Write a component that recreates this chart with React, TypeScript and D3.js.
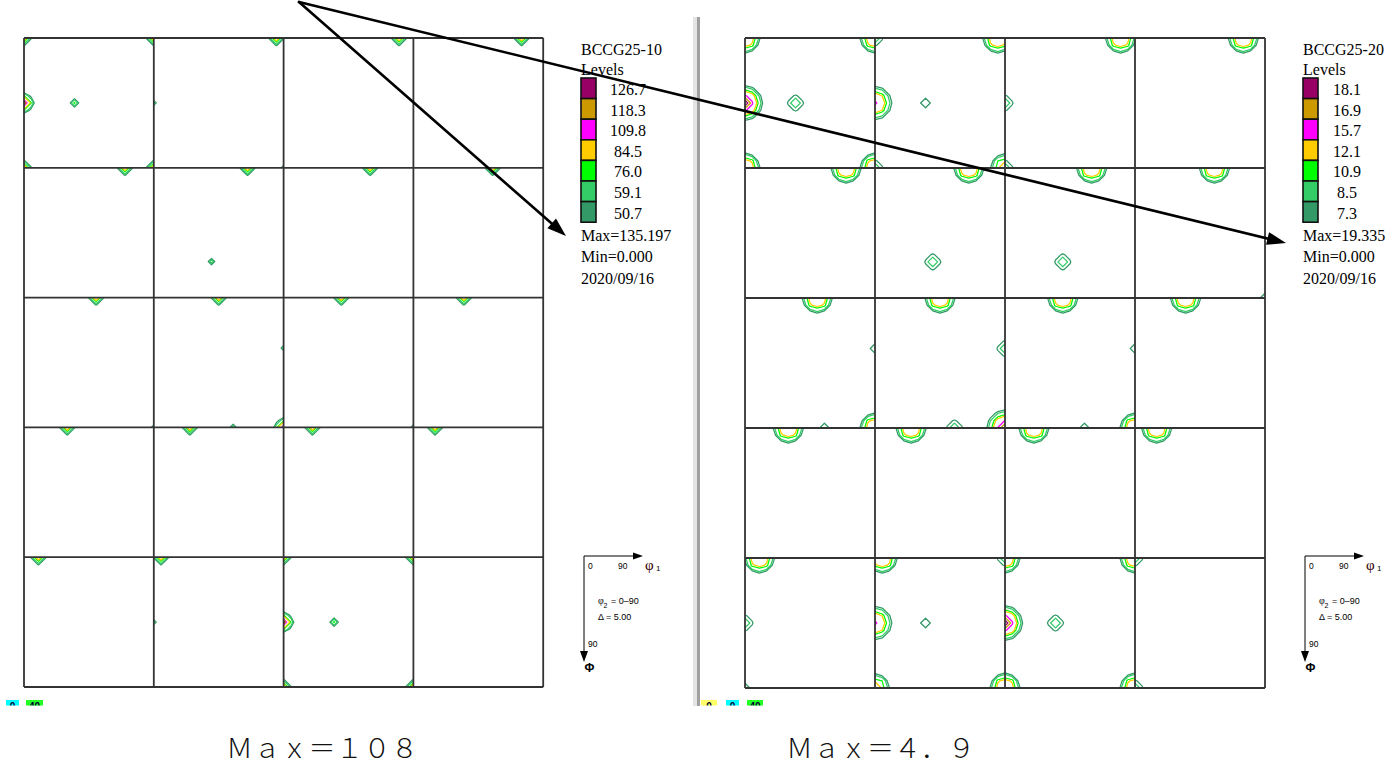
import React, { useMemo } from 'react';
import * as d3 from 'd3';

// ---------- data ----------
// peak: [column, row, phi1 (deg), PHI (deg), peak value, spread (deg), shape exponent]
type Peak = [number, number, number, number, number, number, number];

const titles = ['BCCG25-10', 'BCCG25-20'];
const leftLevels = [50.7, 59.1, 76.0, 84.5, 109.8, 118.3, 126.7];
const rightLevels = [7.3, 8.5, 10.9, 12.1, 15.7, 16.9, 18.1];
const leftLevelLabels = ['50.7', '59.1', '76.0', '84.5', '109.8', '118.3', '126.7'];
const rightLevelLabels = ['7.3', '8.5', '10.9', '12.1', '15.7', '16.9', '18.1'];
const levelColors = ['#339966', '#33cc66', '#00ff00', '#ffcc00', '#ff00ff', '#cc9900', '#990066'];
const maxLabels = ['Max=135.197', 'Max=19.335'];
const minLabels = ['Min=0.000', 'Min=0.000'];
const dateLabels = ['2020/09/16', '2020/09/16'];
const captions = ['Ｍａｘ＝１０８', 'Ｍａｘ＝４．９'];
const keyPhi1Ticks = ['0', '90'];
const keyPhiTick = '90';
const keyRange = '= 0–90';
const keyDelta = 'Δ = 5.00';
const stripLabels = [['0', '40'], ['0', '0', '40']];
const stripColors = [['#00ffff', '#22ff22'], ['#ffff66', '#00ffff', '#22ff22']];

const leftPeaks: Peak[] = [
  [0, 0, 0, 0, 105, 4.3, 2],
  [0, 0, 90, 0, 105, 4.3, 2],
  [0, 0, 0, 45, 135, 4.7, 2],
  [0, 0, 35, 45, 80, 3.6, 2],
  [0, 0, 0, 90, 105, 4.3, 2],
  [0, 0, 90, 90, 105, 4.3, 2],
  [1, 0, 85, 0, 105, 4.3, 2],
  [1, 0, 0, 45, 65, 3.5, 2],
  [1, 0, 90, 90, 65, 3.5, 2],
  [2, 0, 80, 0, 105, 4.3, 2],
  [3, 0, 75, 0, 105, 4.3, 2],
  [0, 1, 70, 0, 105, 4.3, 2],
  [1, 1, 65, 0, 105, 4.3, 2],
  [1, 1, 40, 65, 70, 3.6, 2],
  [2, 1, 60, 0, 105, 4.3, 2],
  [3, 1, 55, 0, 105, 4.3, 2],
  [0, 2, 50, 0, 105, 4.3, 2],
  [0, 2, 90, 90, 65, 3.5, 2],
  [1, 2, 45, 0, 105, 4.3, 2],
  [1, 2, 90, 35, 65, 3.6, 2],
  [1, 2, 55, 90, 70, 3.6, 2],
  [1, 2, 90, 90, 125, 4.7, 2],
  [2, 2, 40, 0, 105, 4.3, 2],
  [2, 2, 90, 90, 65, 3.5, 2],
  [3, 2, 35, 0, 105, 4.3, 2],
  [0, 3, 30, 0, 105, 4.3, 2],
  [1, 3, 25, 0, 105, 4.3, 2],
  [2, 3, 20, 0, 105, 4.3, 2],
  [3, 3, 15, 0, 105, 4.3, 2],
  [0, 4, 10, 0, 105, 4.3, 2],
  [1, 4, 5, 0, 105, 4.3, 2],
  [1, 4, 0, 45, 65, 3.5, 2],
  [2, 4, 0, 0, 105, 4.3, 2],
  [2, 4, 90, 0, 105, 4.3, 2],
  [2, 4, 0, 45, 135, 4.7, 2],
  [2, 4, 35, 45, 80, 3.6, 2],
  [2, 4, 0, 90, 105, 4.3, 2],
  [2, 4, 90, 90, 105, 4.3, 2],
];

const rightPeaks: Peak[] = [
  [0, 0, 0, 0, 13.5, 9.85, 3.8],
  [0, 0, 90, 0, 13.5, 9.85, 3.8],
  [0, 0, 0, 45, 19.3, 8.5, 2],
  [0, 0, 35, 45, 10, 7, 2],
  [0, 0, 0, 90, 13.5, 9.85, 3.8],
  [0, 0, 90, 90, 13.5, 9.85, 3.8],
  [1, 0, 85, 0, 13.5, 9.85, 3.8],
  [1, 0, 0, 0, 10, 7, 2],
  [1, 0, 0, 45, 16.3, 9, 2],
  [1, 0, 35, 45, 8.4, 7.5, 2],
  [1, 0, 0, 90, 10, 7, 2],
  [1, 0, 90, 90, 12.5, 9.85, 3.8],
  [2, 0, 80, 0, 13.5, 9.85, 3.8],
  [2, 0, 0, 45, 10, 7, 2],
  [2, 0, 0, 90, 10, 7, 2],
  [3, 0, 75, 0, 13.5, 9.85, 3.8],
  [0, 1, 70, 0, 13.5, 9.85, 3.8],
  [1, 1, 65, 0, 13.5, 9.85, 3.8],
  [1, 1, 40, 65, 10, 7, 2],
  [2, 1, 60, 0, 13.5, 9.85, 3.8],
  [2, 1, 40, 65, 10, 7, 2],
  [3, 1, 55, 0, 13.5, 9.85, 3.8],
  [3, 1, 90, 90, 8.4, 7.5, 2],
  [0, 2, 50, 0, 13.5, 9.85, 3.8],
  [0, 2, 90, 35, 8.4, 7.5, 2],
  [0, 2, 55, 90, 8.4, 7.5, 2],
  [0, 2, 90, 90, 13.5, 9.85, 3.8],
  [1, 2, 45, 0, 13.5, 9.85, 3.8],
  [1, 2, 90, 35, 10, 7, 2],
  [1, 2, 55, 90, 10, 7, 2],
  [1, 2, 90, 90, 18.5, 9, 2],
  [2, 2, 40, 0, 13.5, 9.85, 3.8],
  [2, 2, 90, 35, 8.4, 7.5, 2],
  [2, 2, 55, 90, 8.4, 7.5, 2],
  [2, 2, 90, 90, 13.5, 9.85, 3.8],
  [3, 2, 35, 0, 13.5, 9.85, 3.8],
  [0, 3, 30, 0, 13.5, 9.85, 3.8],
  [1, 3, 25, 0, 13.5, 9.85, 3.8],
  [2, 3, 20, 0, 13.5, 9.85, 3.8],
  [3, 3, 15, 0, 13.5, 9.85, 3.8],
  [0, 4, 10, 0, 13.5, 9.85, 3.8],
  [0, 4, 0, 45, 10, 7, 2],
  [0, 4, 0, 90, 8.4, 7.5, 2],
  [1, 4, 5, 0, 13.5, 9.85, 3.8],
  [1, 4, 90, 0, 10, 7, 2],
  [1, 4, 0, 45, 16.3, 9, 2],
  [1, 4, 35, 45, 8.4, 7.5, 2],
  [1, 4, 0, 90, 12.5, 9.85, 3.8],
  [1, 4, 90, 90, 13.5, 9.85, 3.8],
  [2, 4, 0, 0, 13.5, 9.85, 3.8],
  [2, 4, 90, 0, 13.5, 9.85, 3.8],
  [2, 4, 0, 45, 19.3, 8.5, 2],
  [2, 4, 35, 45, 10, 7, 2],
  [2, 4, 0, 90, 13.5, 9.85, 3.8],
  [2, 4, 90, 90, 13.5, 9.85, 3.8],
  [3, 4, 0, 0, 10, 7, 2],
  [3, 4, 0, 90, 10, 7, 2],
];

// ---------- layout ----------
const W = 1391;
const H = 765;
const NCOL = 4;
const NROW = 5;
const STEP = 5;
const N = 19;
const Y0 = 38;

const panels = [
  { x0: 24, cell: 129.8, peaks: leftPeaks, levels: leftLevels, labels: leftLevelLabels, lx: 581, labelDx: 47, kx: 584, capX: 226, capW: 192, stripX: [6, 26], stripW: [13, 17] },
  { x0: 745, cell: 130, peaks: rightPeaks, levels: rightLevels, labels: rightLevelLabels, lx: 1303, labelDx: 44, kx: 1305, capX: 786, capW: 189, stripX: [701, 726, 747], stripW: [16, 13, 16] },
];

const serif = "'Liberation Serif', 'Times New Roman', serif";
const sans = "'Liberation Sans', Arial, sans-serif";

function cellField(peaks: Peak[], c: number, r: number): number[] {
  const ps = peaks.filter((p) => p[0] === c && p[1] === r);
  const vals: number[] = new Array(N * N).fill(0);
  for (let j = 0; j < N; j++) {
    for (let i = 0; i < N; i++) {
      let s = 0;
      for (const p of ps) {
        const d = Math.hypot(i * STEP - p[2], j * STEP - p[3]);
        s += p[4] * Math.exp(-0.5 * Math.pow(d / p[5], p[6]));
      }
      vals[j * N + i] = s;
    }
  }
  return vals;
}

function arrowHead(x1: number, y1: number, x2: number, y2: number, L: number, w: number) {
  const a = Math.atan2(y2 - y1, x2 - x1);
  const ux = Math.cos(a), uy = Math.sin(a);
  const bx = x2 - L * ux, by = y2 - L * uy;
  return {
    pts: `${x2},${y2} ${bx - w * uy},${by + w * ux} ${bx + w * uy},${by - w * ux}`,
    lx: x2 - L * 0.7 * ux,
    ly: y2 - L * 0.7 * uy,
  };
}

export default function App() {
  const content = useMemo(() => {
    return panels.map((pn, pi) => {
      const phi = d3.scaleLinear().domain([0, 90]).range([0, pn.cell]);
      const colX = d3.scaleLinear().domain([0, NCOL]).range([pn.x0, pn.x0 + NCOL * pn.cell]);
      const rowY = d3.scaleLinear().domain([0, NROW]).range([Y0, Y0 + NROW * pn.cell]);
      const gen = d3.contours().size([N, N]).thresholds(pn.levels);
      const cells: any[] = [];
      for (let r = 0; r < NROW; r++) {
        for (let c = 0; c < NCOL; c++) {
          const cx = colX(c), cy = rowY(r);
          const vals = cellField(pn.peaks, c, r);
          const cs = gen(vals);
          const proj = d3.geoTransform({
            point(x: number, y: number) {
              (this as any).stream.point(cx + phi((x - 0.5) * STEP), cy + phi((y - 0.5) * STEP));
            },
          });
          const path = d3.geoPath(proj as any);
          const paths: { d: string; color: string }[] = [];
          cs.forEach((ct: any, li: number) => {
            if (!ct.coordinates.length) return;
            const d = path(ct);
            if (d) paths.push({ d, color: levelColors[li] });
          });
          cells.push({ id: `clip-${pi}-${c}-${r}`, x: cx, y: cy, w: pn.cell, paths });
        }
      }
      const vLines = d3.range(NCOL + 1).map((i) => colX(i));
      const hLines = d3.range(NROW + 1).map((i) => rowY(i));
      return { pn, cells, vLines, hLines };
    });
  }, []);

  const arrowStart = [299, 2];
  const arrowEnds = [[566, 236], [1286, 243]];

  return (
    <svg width={W} height={H} style={{ position: 'absolute', left: 0, top: 0, background: '#fff' }}>
      <rect x={0} y={0} width={W} height={H} fill="#fff" />
      <defs>
        {content.map((p) =>
          p.cells.map((cl: any) => (
            <clipPath id={cl.id} key={cl.id}>
              <rect x={cl.x} y={cl.y} width={cl.w} height={cl.w} />
            </clipPath>
          ))
        )}
        <clipPath id="stripClip">
          <rect x={0} y={690} width={W} height={15.5} />
        </clipPath>
      </defs>

      {/* separator */}
      <rect x={693} y={17} width={4} height={689} fill="#e4e4e4" />
      <rect x={697} y={17} width={3} height={689} fill="#a0a0a0" />

      {content.map((p, pi) => (
        <g key={`panel-${pi}`}>
          {p.cells.map((cl: any) => (
            <g key={cl.id} clipPath={`url(#${cl.id})`}>
              {cl.paths.map((pt: any, k: number) => (
                <path key={k} d={pt.d} fill="none" stroke={pt.color} strokeWidth={1.25} strokeLinejoin="round" />
              ))}
            </g>
          ))}
          {p.vLines.map((x: number, i: number) => (
            <line key={`v${i}`} x1={x} x2={x} y1={p.hLines[0]} y2={p.hLines[NROW]} stroke="#333" strokeWidth={1.8} />
          ))}
          {p.hLines.map((y: number, i: number) => (
            <line key={`h${i}`} x1={p.vLines[0]} x2={p.vLines[NCOL]} y1={y} y2={y} stroke="#333" strokeWidth={1.8} />
          ))}

          {/* legend */}
          <g fontFamily={serif} fontSize={16} fill="#000">
            <text x={p.pn.lx} y={55}>{titles[pi]}</text>
            <text x={p.pn.lx} y={75}>Levels</text>
            {p.pn.levels.map((_: number, li: number) => {
              const idx = p.pn.levels.length - 1 - li;
              const y = 78 + li * 20.6;
              return (
                <g key={`lg${li}`}>
                  <rect x={p.pn.lx} y={y} width={15} height={20.6} fill={levelColors[idx]} stroke="#111" strokeWidth={1.6} />
                  <text x={p.pn.lx + p.pn.labelDx} y={y + 17} textAnchor="middle">{p.pn.labels[idx]}</text>
                </g>
              );
            })}
            <text x={p.pn.lx} y={241}>{maxLabels[pi]}</text>
            <text x={p.pn.lx} y={262}>{minLabels[pi]}</text>
            <text x={p.pn.lx} y={284}>{dateLabels[pi]}</text>
          </g>

          {/* axis key */}
          <g fontFamily={sans} fill="#000">
            <line x1={p.pn.kx} y1={556} x2={p.pn.kx + 52} y2={556} stroke="#000" strokeWidth={1} />
            <polygon points={`${p.pn.kx + 59},556 ${p.pn.kx + 49},552.5 ${p.pn.kx + 49},559.5`} fill="#000" />
            <line x1={p.pn.kx} y1={556} x2={p.pn.kx} y2={654} stroke="#000" strokeWidth={1} />
            <polygon points={`${p.pn.kx},662 ${p.pn.kx - 4},651 ${p.pn.kx + 4},651`} fill="#000" />
            <text x={p.pn.kx + 4} y={569} fontSize={8.5}>{keyPhi1Ticks[0]}</text>
            <text x={p.pn.kx + 34} y={569} fontSize={8.5}>{keyPhi1Ticks[1]}</text>
            <text x={p.pn.kx + 61} y={570} fontSize={15} fontFamily={serif} fill="#300">φ</text>
            <text x={p.pn.kx + 72} y={571} fontSize={8}>1</text>
            <text x={p.pn.kx + 14} y={604} fontSize={10} fontFamily={serif}>φ</text>
            <text x={p.pn.kx + 19.5} y={608} fontSize={7}>2</text>
            <text x={p.pn.kx + 27} y={604} fontSize={9}>{keyRange}</text>
            <text x={p.pn.kx + 14} y={620} fontSize={9}>{keyDelta}</text>
            <text x={p.pn.kx + 4} y={647} fontSize={8.5}>{keyPhiTick}</text>
            <text x={p.pn.kx + 0.5} y={672} fontSize={12} fontWeight="bold">Φ</text>
          </g>

          {/* cropped colour strip */}
          <g clipPath="url(#stripClip)">
            {p.pn.stripX.map((sx: number, si: number) => (
              <g key={`s${si}`}>
                <rect x={sx} y={700} width={p.pn.stripW[si]} height={12} fill={stripColors[pi][si]} />
                <text x={sx + p.pn.stripW[si] / 2} y={710} fontSize={10} fontFamily={sans} fontWeight="bold" textAnchor="middle" fill="#003">{stripLabels[pi][si]}</text>
              </g>
            ))}
          </g>

          {/* caption */}
          <text x={p.pn.capX} y={758} fontSize={27} fontFamily="'Noto Sans CJK JP', sans-serif" fontWeight={300} textLength={p.pn.capW} lengthAdjust="spacing" fill="#111">
            {captions[pi]}
          </text>
        </g>
      ))}

      {/* annotation arrows */}
      {arrowEnds.map((e, i) => {
        const h = arrowHead(arrowStart[0], arrowStart[1], e[0], e[1], 19, 6.5);
        return (
          <g key={`arr${i}`}>
            <line x1={arrowStart[0]} y1={arrowStart[1]} x2={h.lx} y2={h.ly} stroke="#000" strokeWidth={2.6} strokeLinecap="round" />
            <polygon points={h.pts} fill="#000" />
          </g>
        );
      })}
    </svg>
  );
}
